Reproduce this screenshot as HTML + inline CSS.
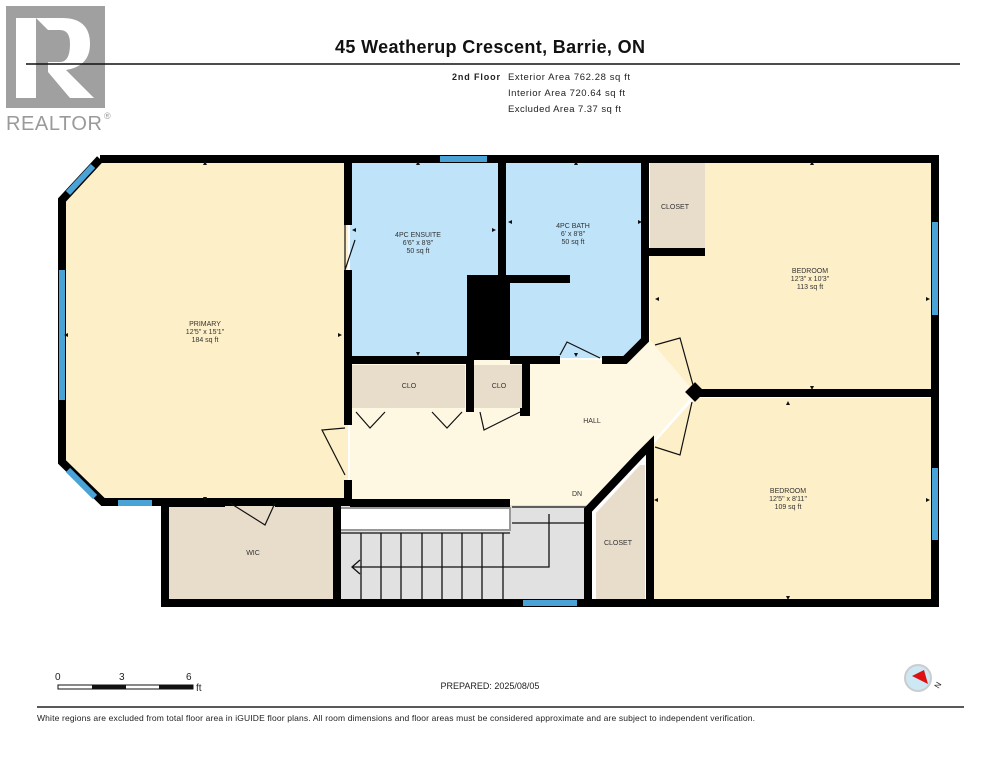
<!DOCTYPE html>
<html><head><meta charset="utf-8"><style>
html,body{margin:0;padding:0;background:#fff;}
body{width:995px;height:768px;overflow:hidden;font-family:"Liberation Sans",sans-serif;}
</style></head><body>
<svg width="995" height="768" viewBox="0 0 995 768" xmlns="http://www.w3.org/2000/svg" font-family="Liberation Sans, sans-serif">
<!-- Realtor logo -->
<rect x="6" y="6" width="99" height="102" fill="#a0a0a0"/>
<rect x="16" y="18" width="20" height="80" fill="#fff"/>
<path d="M36 18 H62 Q90 18 90 44 Q90 66 66 70 L94 98 H70 L48 72 V62 H60 Q70 62 70 44 Q70 30 60 30 H48 Z" fill="#fff"/>
<text x="6" y="130" font-size="20" fill="#9a9a9a" textLength="96">REALTOR</text>
<text x="104" y="119" font-size="9" fill="#9a9a9a">®</text>
<!-- Header -->
<text x="335" y="53" font-size="18" font-weight="bold" fill="#111" textLength="310">45 Weatherup Crescent, Barrie, ON</text>
<line x1="26" y1="64" x2="960" y2="64" stroke="#111" stroke-width="1.5"/>
<text x="452" y="80" font-size="9" font-weight="bold" fill="#222" textLength="48">2nd Floor</text>
<text x="508" y="80" font-size="9.5" fill="#222" textLength="122">Exterior Area 762.28 sq ft</text>
<text x="508" y="96" font-size="9.5" fill="#222" textLength="117">Interior Area 720.64 sq ft</text>
<text x="508" y="112" font-size="9.5" fill="#222" textLength="113">Excluded Area 7.37 sq ft</text>

<!-- Room fills -->
<polygon points="100,160 348,160 348,502 103,502 62,462 62,200" fill="#fdefc7"/>
<rect x="350" y="160" width="150" height="198" fill="#bfe3f8"/>
<rect x="505" y="160" width="140" height="198" fill="#bfe3f8"/>
<rect x="650" y="160" width="55" height="92" fill="#e8dccb"/>
<polygon points="705,160 935,160 935,393 695,393 650,345 650,252 705,252" fill="#fdefc7"/>
<polygon points="695,398 935,398 935,603 650,603 650,448" fill="#fdefc7"/>
<polygon points="350,360 625,360 650,340 695,393 650,445 590,505 350,505" fill="#fef8e3"/>
<rect x="352" y="365" width="113" height="43" fill="#e8dccb"/>
<rect x="473" y="365" width="54" height="43" fill="#e8dccb"/>
<rect x="167" y="505" width="170" height="98" fill="#e8dccb"/>
<rect x="340" y="505" width="250" height="98" fill="#e1e1e1"/>
<rect x="340" y="508" width="170" height="22" fill="#fff" stroke="#999" stroke-width="2"/>
<polygon points="596,513 640,465 645,465 645,603 596,603" fill="#e8dccb"/>

<!-- stairs -->
<g stroke="#111" stroke-width="1.3" fill="none">
<line x1="340" y1="533" x2="510" y2="533"/>
<line x1="361" y1="533" x2="361" y2="600"/><line x1="381" y1="533" x2="381" y2="600"/>
<line x1="401" y1="533" x2="401" y2="600"/><line x1="422" y1="533" x2="422" y2="600"/>
<line x1="442" y1="533" x2="442" y2="600"/><line x1="462" y1="533" x2="462" y2="600"/>
<line x1="482" y1="533" x2="482" y2="600"/><line x1="503" y1="533" x2="503" y2="600"/>
<line x1="512" y1="507" x2="590" y2="507"/>
<line x1="512" y1="523" x2="590" y2="523"/>
<polyline points="549,514 549,567 352,567"/>
<polyline points="360,560 352,567 360,574"/>
</g>

<!-- Walls -->
<g fill="none" stroke="#000" stroke-width="8" stroke-linejoin="miter">
<polyline points="100,159 935,159 935,603 165,603 165,503"/>
<polyline points="100,159 62,200 62,462 103,502 348,502 348,480"/>
<line x1="348" y1="159" x2="348" y2="225"/>
<line x1="348" y1="270" x2="348" y2="425"/>
<line x1="502" y1="159" x2="502" y2="283"/>
<line x1="503" y1="279" x2="570" y2="279"/>
<line x1="350" y1="360" x2="470" y2="360"/>
<line x1="510" y1="360" x2="560" y2="360"/>
<polyline points="602,360 625,360 645,340 645,159"/>
<line x1="470" y1="360" x2="470" y2="412"/>
<polyline points="526,362 526,412 520,412"/>
<polyline points="648,252 705,252"/>
<line x1="695" y1="393" x2="935" y2="393"/>
<polyline points="588,603 588,510 640,455 650,445 650,603"/>
<line x1="337" y1="505" x2="337" y2="603"/>
<line x1="167" y1="503" x2="225" y2="503"/>
<line x1="275" y1="503" x2="337" y2="503"/>
<line x1="350" y1="503" x2="510" y2="503"/>
</g>
<rect x="467" y="275" width="43" height="85" fill="#000"/>
<rect x="688" y="385" width="14" height="14" fill="#000" transform="rotate(45 695 392)"/>
<!-- windows -->
<g stroke="#4aa3d6" stroke-width="6">
<line x1="68" y1="193" x2="93" y2="166"/>
<line x1="62" y1="270" x2="62" y2="400"/>
<line x1="68" y1="470" x2="95" y2="497"/>
<line x1="118" y1="503" x2="152" y2="503"/>
<line x1="440" y1="159" x2="487" y2="159"/>
<line x1="935" y1="222" x2="935" y2="315"/>
<line x1="935" y1="468" x2="935" y2="540"/>
<line x1="523" y1="603" x2="577" y2="603"/>
</g>
<!-- doors -->
<g stroke="#111" stroke-width="1.2" fill="none">
<polyline points="345,225 345,270 355,240"/>
<polyline points="345,428 322,430 345,475"/>
<polyline points="356,412 370,428 385,412"/>
<polyline points="432,412 447,428 462,412"/>
<polyline points="480,412 484,430 520,412"/>
<polyline points="560,355 567,342 600,358"/>
<polyline points="655,345 680,338 693,385"/>
<polyline points="655,447 680,455 692,402"/>
<polyline points="230,503 265,525 275,503"/>
</g>
<g fill="#111">
<path d="M203,165 l2,-4 l2,4 z M203,497 l2,4 l2,-4 z"/>
<path d="M68,333 l-4,2 l4,2 z M338,333 l4,2 l-4,2 z"/>
<path d="M416,165 l2,-4 l2,4 z M416,352 l2,4 l2,-4 z M356,228 l-4,2 l4,2z M492,228 l4,2 l-4,2z"/>
<path d="M574,165 l2,-4 l2,4 z M512,220 l-4,2 l4,2z M638,220 l4,2 l-4,2z M574,353 l2,4 l2,-4z"/>
<path d="M810,165 l2,-4 l2,4 z M810,386 l2,4 l2,-4 z M659,297 l-4,2 l4,2 z M926,297 l4,2 l-4,2 z"/>
<path d="M786,405 l2,-4 l2,4 z M786,596 l2,4 l2,-4 z M658,498 l-4,2 l4,2 z M926,498 l4,2 l-4,2 z"/>
</g>
<!-- labels -->
<g font-size="7" fill="#333" text-anchor="middle">
<text x="205" y="326">PRIMARY</text><text x="205" y="334">12'5" x 15'1"</text><text x="205" y="342">184 sq ft</text>
<text x="418" y="237">4PC ENSUITE</text><text x="418" y="245">6'6" x 8'8"</text><text x="418" y="253">50 sq ft</text>
<text x="573" y="228">4PC BATH</text><text x="573" y="236">6' x 8'8"</text><text x="573" y="244">50 sq ft</text>
<text x="675" y="209">CLOSET</text>
<text x="810" y="273">BEDROOM</text><text x="810" y="281">12'3" x 10'3"</text><text x="810" y="289">113 sq ft</text>
<text x="788" y="493">BEDROOM</text><text x="788" y="501">12'5" x 8'11"</text><text x="788" y="509">109 sq ft</text>
<text x="409" y="388">CLO</text><text x="499" y="388">CLO</text>
<text x="592" y="423">HALL</text><text x="577" y="496">DN</text>
<text x="253" y="555">WIC</text><text x="618" y="545">CLOSET</text>
</g>
<!-- footer -->
<g font-size="10" fill="#222">
<text x="55" y="680">0</text><text x="119" y="680">3</text><text x="186" y="680">6</text><text x="196" y="691">ft</text>
</g>
<rect x="58" y="685" width="135" height="4" fill="#fff" stroke="#111" stroke-width="1"/>
<rect x="92" y="685" width="34" height="4" fill="#111"/><rect x="159" y="685" width="34" height="4" fill="#111"/>
<text x="490" y="689" font-size="9" fill="#222" text-anchor="middle">PREPARED: 2025/08/05</text>
<circle cx="918" cy="678" r="13" fill="#cde8f5" stroke="#ccc" stroke-width="2"/>
<polygon points="912,676 924,670 928,684" fill="#d11"/>
<text x="937" y="690" font-size="8" fill="#222" transform="rotate(-60 937 688)">N</text>
<line x1="37" y1="707" x2="964" y2="707" stroke="#222" stroke-width="1.5"/>
<text x="37" y="721" font-size="8.5" fill="#222" textLength="718">White regions are excluded from total floor area in iGUIDE floor plans. All room dimensions and floor areas must be considered approximate and are subject to independent verification.</text>
</svg>
</body></html>
